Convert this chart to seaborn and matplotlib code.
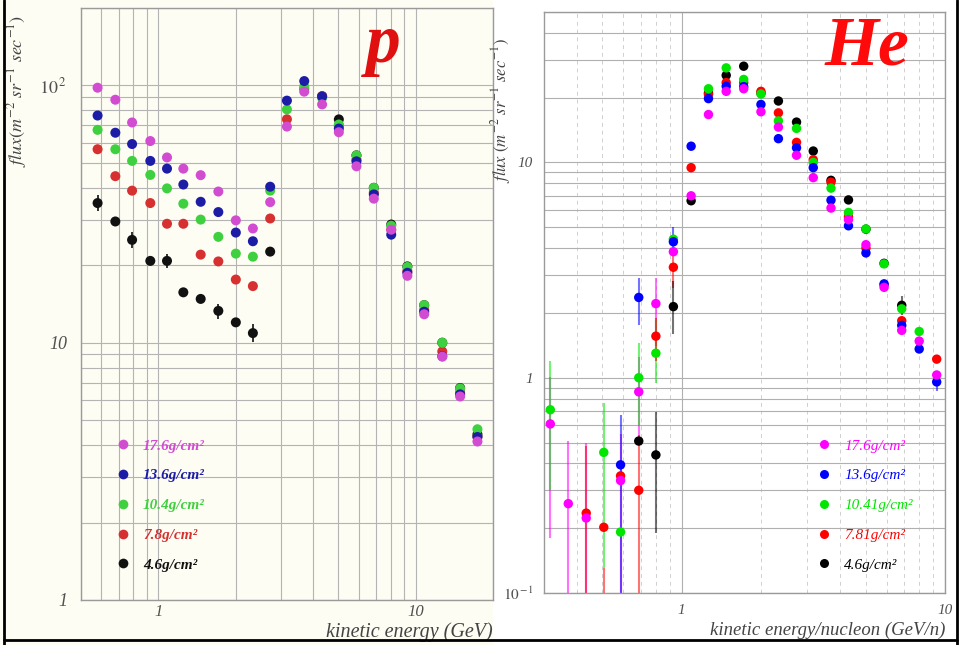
import numpy as np
import pandas as pd
import matplotlib
matplotlib.use("Agg")
import matplotlib.pyplot as plt
from matplotlib.lines import Line2D
from matplotlib.patches import Rectangle
from matplotlib.ticker import FixedLocator, FuncFormatter, LogLocator, NullFormatter
import seaborn as sns

nan = np.nan

# ---- proton spectra at five atmospheric depths ----
p_energy = [0.58, 0.68, 0.79, 0.93, 1.08, 1.25, 1.46, 1.71, 2.0, 2.33, 2.72,
            3.16, 3.69, 4.33, 5.03, 5.89, 6.88, 8.04, 9.29, 10.8, 12.7, 14.9, 17.4]
p_depths = ["17.6g/cm²", "13.6g/cm²", "10.4g/cm²", "7.8g/cm²", "4.6g/cm²"]
p_flux_176 = [98, 88, 71.8, 60.8, 52.5, 47.5, 44.8, 38.7, 29.9, 27.8, 35.2,
              69.2, 94.6, 84.4, 65.8, 48.5, 36.3, 27.5, 18.2, 12.9, 8.83, 6.18, 4.13]
p_flux_136 = [76.4, 65.5, 59.2, 50.9, 47.5, 41.2, 35.3, 32.2, 26.8, 24.8, 40.4,
              87.3, 104, 90.5, 68, 50.7, 37.7, 26.3, 18.7, 13.2, 8.86, 6.3, 4.3]
p_flux_104 = [67.2, 56.5, 50.9, 44.9, 39.8, 34.7, 30.1, 25.8, 22.2, 21.6, 39,
              80.7, 99, 89.5, 70.5, 53.5, 40, 28.5, 19.7, 14, 10, 6.64, 4.61]
p_flux_78 = [56.5, 44.4, 39, 34.9, 29, 29, 22, 20.7, 17.6, 16.6, 30.4,
             73.9, 97, 90.8, 69.8, 51.5, 38.3, 27.5, 19, 13.4, 9.25, 6.4, 4.32]
p_flux_46 = [34.9, 29.6, 25.1, 20.8, 20.8, 15.7, 14.8, 13.3, 12, 10.9, 22.6,
             nan, nan, 90.8, 73.8, 53.5, 40, 28.8, 19.8, 14, 10, 6.67, 4.4]
# statistical errors on the shallowest proton points
p_err_energy = [0.58, 0.79, 1.08, 1.71, 2.33]
p_err_lo = [32.6, 23.3, 19.5, 12.4, 10.1]
p_err_hi = [37.4, 27.0, 22.2, 14.2, 11.8]

# ---- helium spectra at five atmospheric depths ----
he_energy = [0.317, 0.371, 0.434, 0.506, 0.586, 0.687, 0.798, 0.93, 1.086, 1.264,
             1.476, 1.72, 2.0, 2.33, 2.73, 3.16, 3.69, 4.3, 5.01, 5.87, 6.85, 7.98, 9.3]
he_depths = ["17.6g/cm²", "13.6g/cm²", "10.41g/cm²", "7.81g/cm²", "4.6g/cm²"]
he_flux_176 = [0.61, 0.26, 0.223, nan, 0.333, 0.86, 2.21, 3.85, 7.0, 16.7, 21.4, 22.0,
               17.2, 14.6, 10.8, 8.5, 6.14, 5.42, 4.15, 2.63, 1.66, 1.48, 1.03]
he_flux_136 = [nan, nan, nan, nan, 0.394, 2.36, nan, 4.28, 11.9, 19.8, 22.6, 22.5,
               18.6, 12.9, 11.7, 9.46, 6.68, 5.08, 3.8, 2.73, 1.75, 1.36, 0.956]
he_flux_1041 = [0.71, nan, nan, 0.45, 0.192, 1.0, 1.30, 4.4, nan, 22.0, 27.5, 24.3,
                20.8, 15.6, 14.4, 10.0, 7.6, 5.86, 4.91, 3.38, 2.09, 1.64, nan]
he_flux_781 = [nan, nan, 0.235, 0.202, 0.35, 0.30, 1.56, 3.26, 9.46, 20.7, 23.5, 23.5,
               21.4, 17.0, 12.4, 10.3, 8.1, 5.6, 4.0, 2.7, 1.84, nan, 1.22]
he_flux_46 = [nan, nan, nan, nan, nan, 0.508, 0.438, 2.14, 6.64, 21.0, 25.4, 28.0,
              21.0, 19.3, 15.4, 11.3, 8.26, 6.7, 4.9, 3.4, 2.17, nan, nan]
# helium error bars: depth index, energy, lower and upper flux
he_err_depth = [0, 0, 0, 0, 0, 0, 1, 1, 1, 2, 2, 2, 2, 3, 3, 3, 3, 3, 4, 4, 4, 1]
he_err_energy = [0.317, 0.371, 0.434, 0.586, 0.687, 0.798, 0.586, 0.687, 0.93,
                 0.317, 0.506, 0.687, 0.798, 0.434, 0.506, 0.687, 0.798, 0.93,
                 0.798, 0.93, 6.85, 9.3]
he_err_lo = [0.18, 0.05, 0.05, 0.05, 0.5, 1.4, 0.05, 1.75, 3.7,
             0.3, 0.13, 0.6, 0.95, 0.05, 0.05, 0.05, 1.2, 2.6,
             0.19, 1.6, 1.95, 0.87]
he_err_hi = [1.01, 0.51, 0.50, 0.55, 1.25, 2.9, 0.67, 2.9, 5.0,
             1.2, 0.76, 1.45, 1.85, 0.48, 0.13, 0.54, 1.9, 4.0,
             0.69, 2.8, 2.4, 1.05]

p_colors = ["#d24cd2", "#1c1ca6", "#3fd03f", "#d63030", "#111111"]
he_colors = ["#ff00ff", "#0000ff", "#00e600", "#ff0000", "#000000"]


def long_table(energy, series, labels):
    frames = [pd.DataFrame({"energy": energy, "flux": vals, "depth": lab})
              for lab, vals in zip(labels, series)]
    # deepest layer drawn first so the shallow ones sit on top
    return pd.concat(frames[::-1], ignore_index=True).dropna()


p_table = long_table(p_energy, [p_flux_176, p_flux_136, p_flux_104, p_flux_78, p_flux_46], p_depths)
he_table = long_table(he_energy, [he_flux_176, he_flux_136, he_flux_1041, he_flux_781, he_flux_46], he_depths)

sns.set_theme(style="white")
plt.rcParams["font.family"] = ["Liberation Serif", "DejaVu Serif"]
plt.rcParams["mathtext.fontset"] = "stix"

W, H = 963, 645
fig = plt.figure(figsize=(W / 100, H / 100), dpi=100)
fig.patch.set_facecolor("white")
fig.patches.append(Rectangle((0, 0), 493 / W, 1, transform=fig.transFigure,
                             facecolor="#fdfdf3", edgecolor="none", zorder=-10))

ax1 = fig.add_axes([81 / W, 1 - 600 / H, 412 / W, 592 / H])
ax2 = fig.add_axes([544 / W, 1 - 593 / H, 401 / W, 581 / H])
ax1.set_facecolor("#fdfdf3")
ax2.set_facecolor("white")

for ax in (ax1, ax2):
    ax.set_xscale("log")
    ax.set_yscale("log")

# error bars under the markers
ax1.vlines(p_err_energy, p_err_lo, p_err_hi, colors="#222222", lw=1.3, zorder=2)
for d, e, lo, hi in zip(he_err_depth, he_err_energy, he_err_lo, he_err_hi):
    ax2.vlines(e, lo, hi, colors=he_colors[d], lw=1.5, alpha=0.55, zorder=2)

sns.scatterplot(data=p_table, x="energy", y="flux", hue="depth", hue_order=p_depths,
                palette=dict(zip(p_depths, p_colors)), s=52, edgecolor="none",
                linewidth=0, legend=False, ax=ax1, zorder=3)
sns.scatterplot(data=he_table, x="energy", y="flux", hue="depth", hue_order=he_depths,
                palette=dict(zip(he_depths, he_colors)), s=46, edgecolor="none",
                linewidth=0, legend=False, ax=ax2, zorder=3)

ax1.set_xlim(0.5, 20)
ax1.set_ylim(1, 200)
ax2.set_xlim(0.3, 10)
ax2.set_ylim(0.1, 50)

p_xlab = {1: "1", 10: "10"}
p_ylab = {1: "1", 10: "10", 100: r"$\mathit{10}^{\,\mathit{2}}$"}
he_xlab = {1: "1", 10: "10"}
he_ylab = {0.1: r"$\mathit{10}^{\,\mathit{-1}}$", 1: "1", 10: "10"}

for ax, xl, yl, size in ((ax1, p_xlab, p_ylab, 13), (ax2, he_xlab, he_ylab, 11)):
    ax.xaxis.set_major_locator(FixedLocator(list(xl)))
    ax.yaxis.set_major_locator(FixedLocator(list(yl)))
    ax.xaxis.set_minor_locator(LogLocator(base=10, subs=np.arange(2, 10)))
    ax.yaxis.set_minor_locator(LogLocator(base=10, subs=np.arange(2, 10)))
    ax.xaxis.set_major_formatter(FuncFormatter(lambda v, pos, m=xl: m.get(round(v, 3), "")))
    ax.yaxis.set_major_formatter(FuncFormatter(lambda v, pos, m=yl: m.get(round(v, 3), "")))
    ax.xaxis.set_minor_formatter(NullFormatter())
    ax.yaxis.set_minor_formatter(NullFormatter())
    ax.tick_params(which="major", length=4, width=0.8, color="#888888", direction="in",
                   labelsize=size, labelcolor="#505050")
    ax.tick_params(which="minor", length=2.5, width=0.6, color="#999999", direction="in")
    for lab in ax.get_xticklabels() + ax.get_yticklabels():
        lab.set_fontstyle("italic")
    for sp in ax.spines.values():
        sp.set_color("#9a9a9a")
        sp.set_linewidth(1.0)

ax1.tick_params(axis="y", pad=10)
ax1.tick_params(axis="x", pad=3, labelsize=12)
ax2.tick_params(axis="y", pad=8)
ax2.tick_params(axis="x", pad=8)

ax1.grid(True, which="both", color="#b4b4b4", lw=0.8)
ax2.grid(True, which="both", axis="y", color="#b0b0b0", lw=0.8)
ax2.grid(True, which="minor", axis="x", color="#d0d0d0", lw=0.7, ls=(0, (4, 4)))
ax2.grid(True, which="major", axis="x", color="#b0b0b0", lw=0.8)
ax1.set_axisbelow(True)
ax2.set_axisbelow(True)

# axis titles
flux_label = r"$\mathit{flux(m^{-2}\ sr^{-1}\ sec^{-1})}$"
ax1.set_ylabel(flux_label, fontsize=13, color="#444444")
ax1.yaxis.set_label_coords(-0.125, 0.86)
ax1.set_xlabel("kinetic energy (GeV)", fontsize=14.5, fontstyle="italic", color="#444444", loc="right")
ax1.xaxis.set_label_coords(1.0, -0.037)
ax2.set_ylabel(r"$\mathit{flux\ (m^{-2}\ sr^{-1}\ sec^{-1})}$", fontsize=12, color="#444444")
ax2.yaxis.set_label_coords(-0.077, 0.83)
ax2.set_xlabel("kinetic energy/nucleon (GeV/n)", fontsize=13.5, fontstyle="italic",
               color="#444444", loc="right")
ax2.xaxis.set_label_coords(1.0, -0.05)

# particle tags
ax1.text(0.733, 0.909, "p", transform=ax1.transAxes, ha="center", va="baseline",
         fontsize=50, fontweight="bold", fontstyle="italic", color="#e01010")
ax2.text(0.805, 0.910, "He", transform=ax2.transAxes, ha="center", va="baseline",
         fontsize=50, fontweight="bold", fontstyle="italic", color="#ff0a0a")


def depth_legend(ax, labels, colors, anchor, weight, msize):
    handles = [Line2D([], [], ls="none", marker="o", markersize=msize,
                      markerfacecolor=c, markeredgecolor="none") for c in colors]
    leg = ax.legend(handles, labels, loc="upper left", bbox_to_anchor=anchor,
                    frameon=False, handlelength=1.0, handletextpad=0.8,
                    labelspacing=1.05, borderpad=0, borderaxespad=0,
                    labelcolor=colors,
                    prop={"family": "Liberation Serif", "style": "italic",
                          "weight": weight, "size": 11})
    return leg


depth_legend(ax1, p_depths, p_colors, (0.084, 0.272), "bold", 7)
depth_legend(ax2, he_depths, he_colors, (0.680, 0.265), "normal", 6.5)

# outer frame on the left, right and bottom edges
for xs, ys in (([4 / W, 4 / W], [0, 1]), ([957 / W, 957 / W], [0, 1]),
               ([4 / W, 957 / W], [1 - 640 / H, 1 - 640 / H])):
    fig.add_artist(Line2D(xs, ys, transform=fig.transFigure, color="black", lw=2))

fig.savefig("out.png", dpi=100)
